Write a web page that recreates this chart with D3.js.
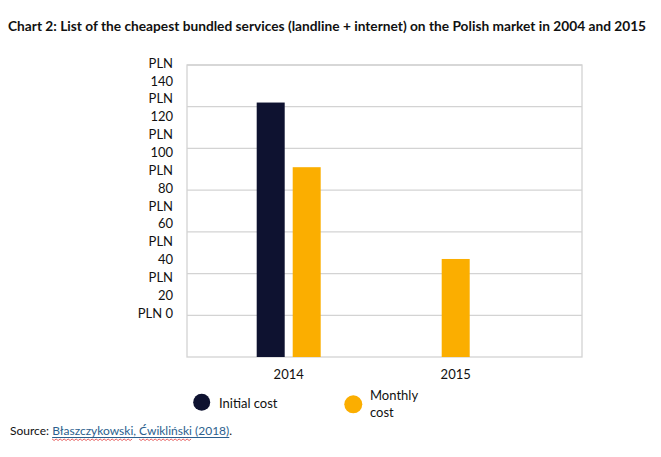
<!DOCTYPE html>
<html><head><meta charset="utf-8">
<script src="https://cdn.jsdelivr.net/npm/d3@7"></script>
<style>body{margin:0;background:#fff}svg{display:block}text{font-family:Lato,"Open Sans",sans-serif}</style>
</head><body>
<svg id="c" width="661" height="457"></svg>
<script>
const title = "Chart 2: List of the cheapest bundled services (landline + internet) on the Polish market in 2004 and 2015";
const categories = ["2014", "2015"];
const seriesNames = ["Initial cost", "Monthly cost"];
const initialCost = [122, null];
const monthlyCost = [91, 47];
const yTicks = [140, 120, 100, 80, 60, 40, 20, 0];
const yTickLabels = ["PLN 140", "PLN 120", "PLN 100", "PLN 80", "PLN 60", "PLN 40", "PLN 20", "PLN 0"];
const sourcePrefix = "Source: ";
const sourceLink = "Błaszczykowski, Ćwikliński (2018)";
const sourceSuffix = ".";

const colors = {"Initial cost": "#0e1230", "Monthly cost": "#fbae00"};
const svg = d3.select("#c");
const L = 187, R = 582, T = 65, B = 357;

// title
const tt = svg.append("text").attr("x", 8).attr("y", 31)
  .attr("font-weight", "bold").attr("font-size", 13).attr("fill", "#111").text(title);
const tw = tt.node().getComputedTextLength();
tt.attr("font-size", 13 * 639 / tw);

const y = d3.scaleLinear().domain([0, 140]).range([B, T]);
const x = d3.scalePoint().domain(categories).range([288.7, 455.7]);

// gridlines
svg.append("g").selectAll("line").data(y.ticks(7).filter(d => d > 0)).join("line")
  .attr("x1", L).attr("x2", R).attr("y1", d => y(d)).attr("y2", d => y(d))
  .attr("stroke", "#d3d3d3").attr("stroke-width", 1.3);
svg.append("rect").attr("x", L).attr("y", T).attr("width", R - L).attr("height", B - T)
  .attr("fill", "none").attr("stroke", "#d3d3d3").attr("stroke-width", 1.3);

// y tick labels (wrapped, as in the original)
const lines = [];
yTickLabels.forEach(l => {
  if (l === "PLN 0") lines.push(l); else { const p = l.split(" "); lines.push(p[0], p[1]); }
});
const ly = d3.scaleLinear().domain([0, lines.length - 1]).range([63, 313]);
svg.append("g").selectAll("text").data(lines).join("text")
  .attr("x", 173).attr("y", (d, i) => ly(i)).attr("dy", "0.36em")
  .attr("text-anchor", "end").attr("font-size", 13).attr("fill", "#111").text(d => d);

// bars
const data = categories.map((c, i) => ({cat: c, vals: [
  {s: seriesNames[0], v: initialCost[i]}, {s: seriesNames[1], v: monthlyCost[i]}].filter(d => d.v != null)}));
data.forEach(g => {
  const n = g.vals.length;
  const inner = d3.scaleBand().domain(g.vals.map(d => d.s)).range([-n * 18, n * 18])
    .paddingInner(8 / 36).paddingOuter(4 / 36);
  svg.append("g").selectAll("rect").data(g.vals).join("rect")
    .attr("x", d => x(g.cat) + inner(d.s)).attr("width", inner.bandwidth())
    .attr("y", d => y(d.v)).attr("height", d => y(0) - y(d.v))
    .attr("fill", d => colors[d.s]);
});

// category labels
svg.append("g").selectAll("text").data(categories).join("text")
  .attr("x", d => x(d)).attr("y", 374).attr("dy", "0.36em").attr("text-anchor", "middle")
  .attr("font-size", 13).attr("fill", "#111").text(d => d);

// legend
const leg = [{s: seriesNames[0], cx: 201.7, cy: 402.3, r: 8.5, tx: 219, lines: ["Initial cost"], ty: 403},
             {s: seriesNames[1], cx: 353.3, cy: 404.3, r: 9, tx: 370, lines: ["Monthly", "cost"], ty: 395}];
leg.forEach(l => {
  svg.append("circle").attr("cx", l.cx).attr("cy", l.cy).attr("r", l.r).attr("fill", colors[l.s]);
  l.lines.forEach((t, i) => svg.append("text").attr("x", l.tx).attr("y", l.ty + i * 17.5).attr("dy", "0.36em")
    .attr("font-size", 13).attr("fill", "#111").text(t));
});

// source
const st = svg.append("text").attr("x", 10).attr("y", 435).attr("font-size", 12).attr("fill", "#111");
st.append("tspan").text(sourcePrefix);
const lk = st.append("tspan").attr("fill", "#2c5f8e").text(sourceLink);
st.append("tspan").text(sourceSuffix);
const n = st.node();
const start = n.getSubStringLength(0, sourcePrefix.length);
const linkW = n.getSubStringLength(sourcePrefix.length, sourceLink.length);
svg.append("line").attr("x1", 10 + start).attr("x2", 10 + start + linkW).attr("y1", 437.5).attr("y2", 437.5)
  .attr("stroke", "#2c5f8e").attr("stroke-width", 1);
// spell-check squiggles under the two names
const words = ["Błaszczykowski", "Ćwikliński"];
words.forEach(w => {
  const idx = sourcePrefix.length + sourceLink.indexOf(w);
  const x0 = 10 + n.getSubStringLength(0, idx), ww = n.getSubStringLength(idx, w.length);
  const pts = d3.range(0, Math.floor(ww / 2) + 1).map(k => [x0 + k * 2, 439.5 + (k % 2 ? 1 : -0.5)]);
  svg.append("path").attr("d", d3.line()(pts)).attr("fill", "none").attr("stroke", "#e23b3b").attr("stroke-width", 0.8);
});
</script>
</body></html>
